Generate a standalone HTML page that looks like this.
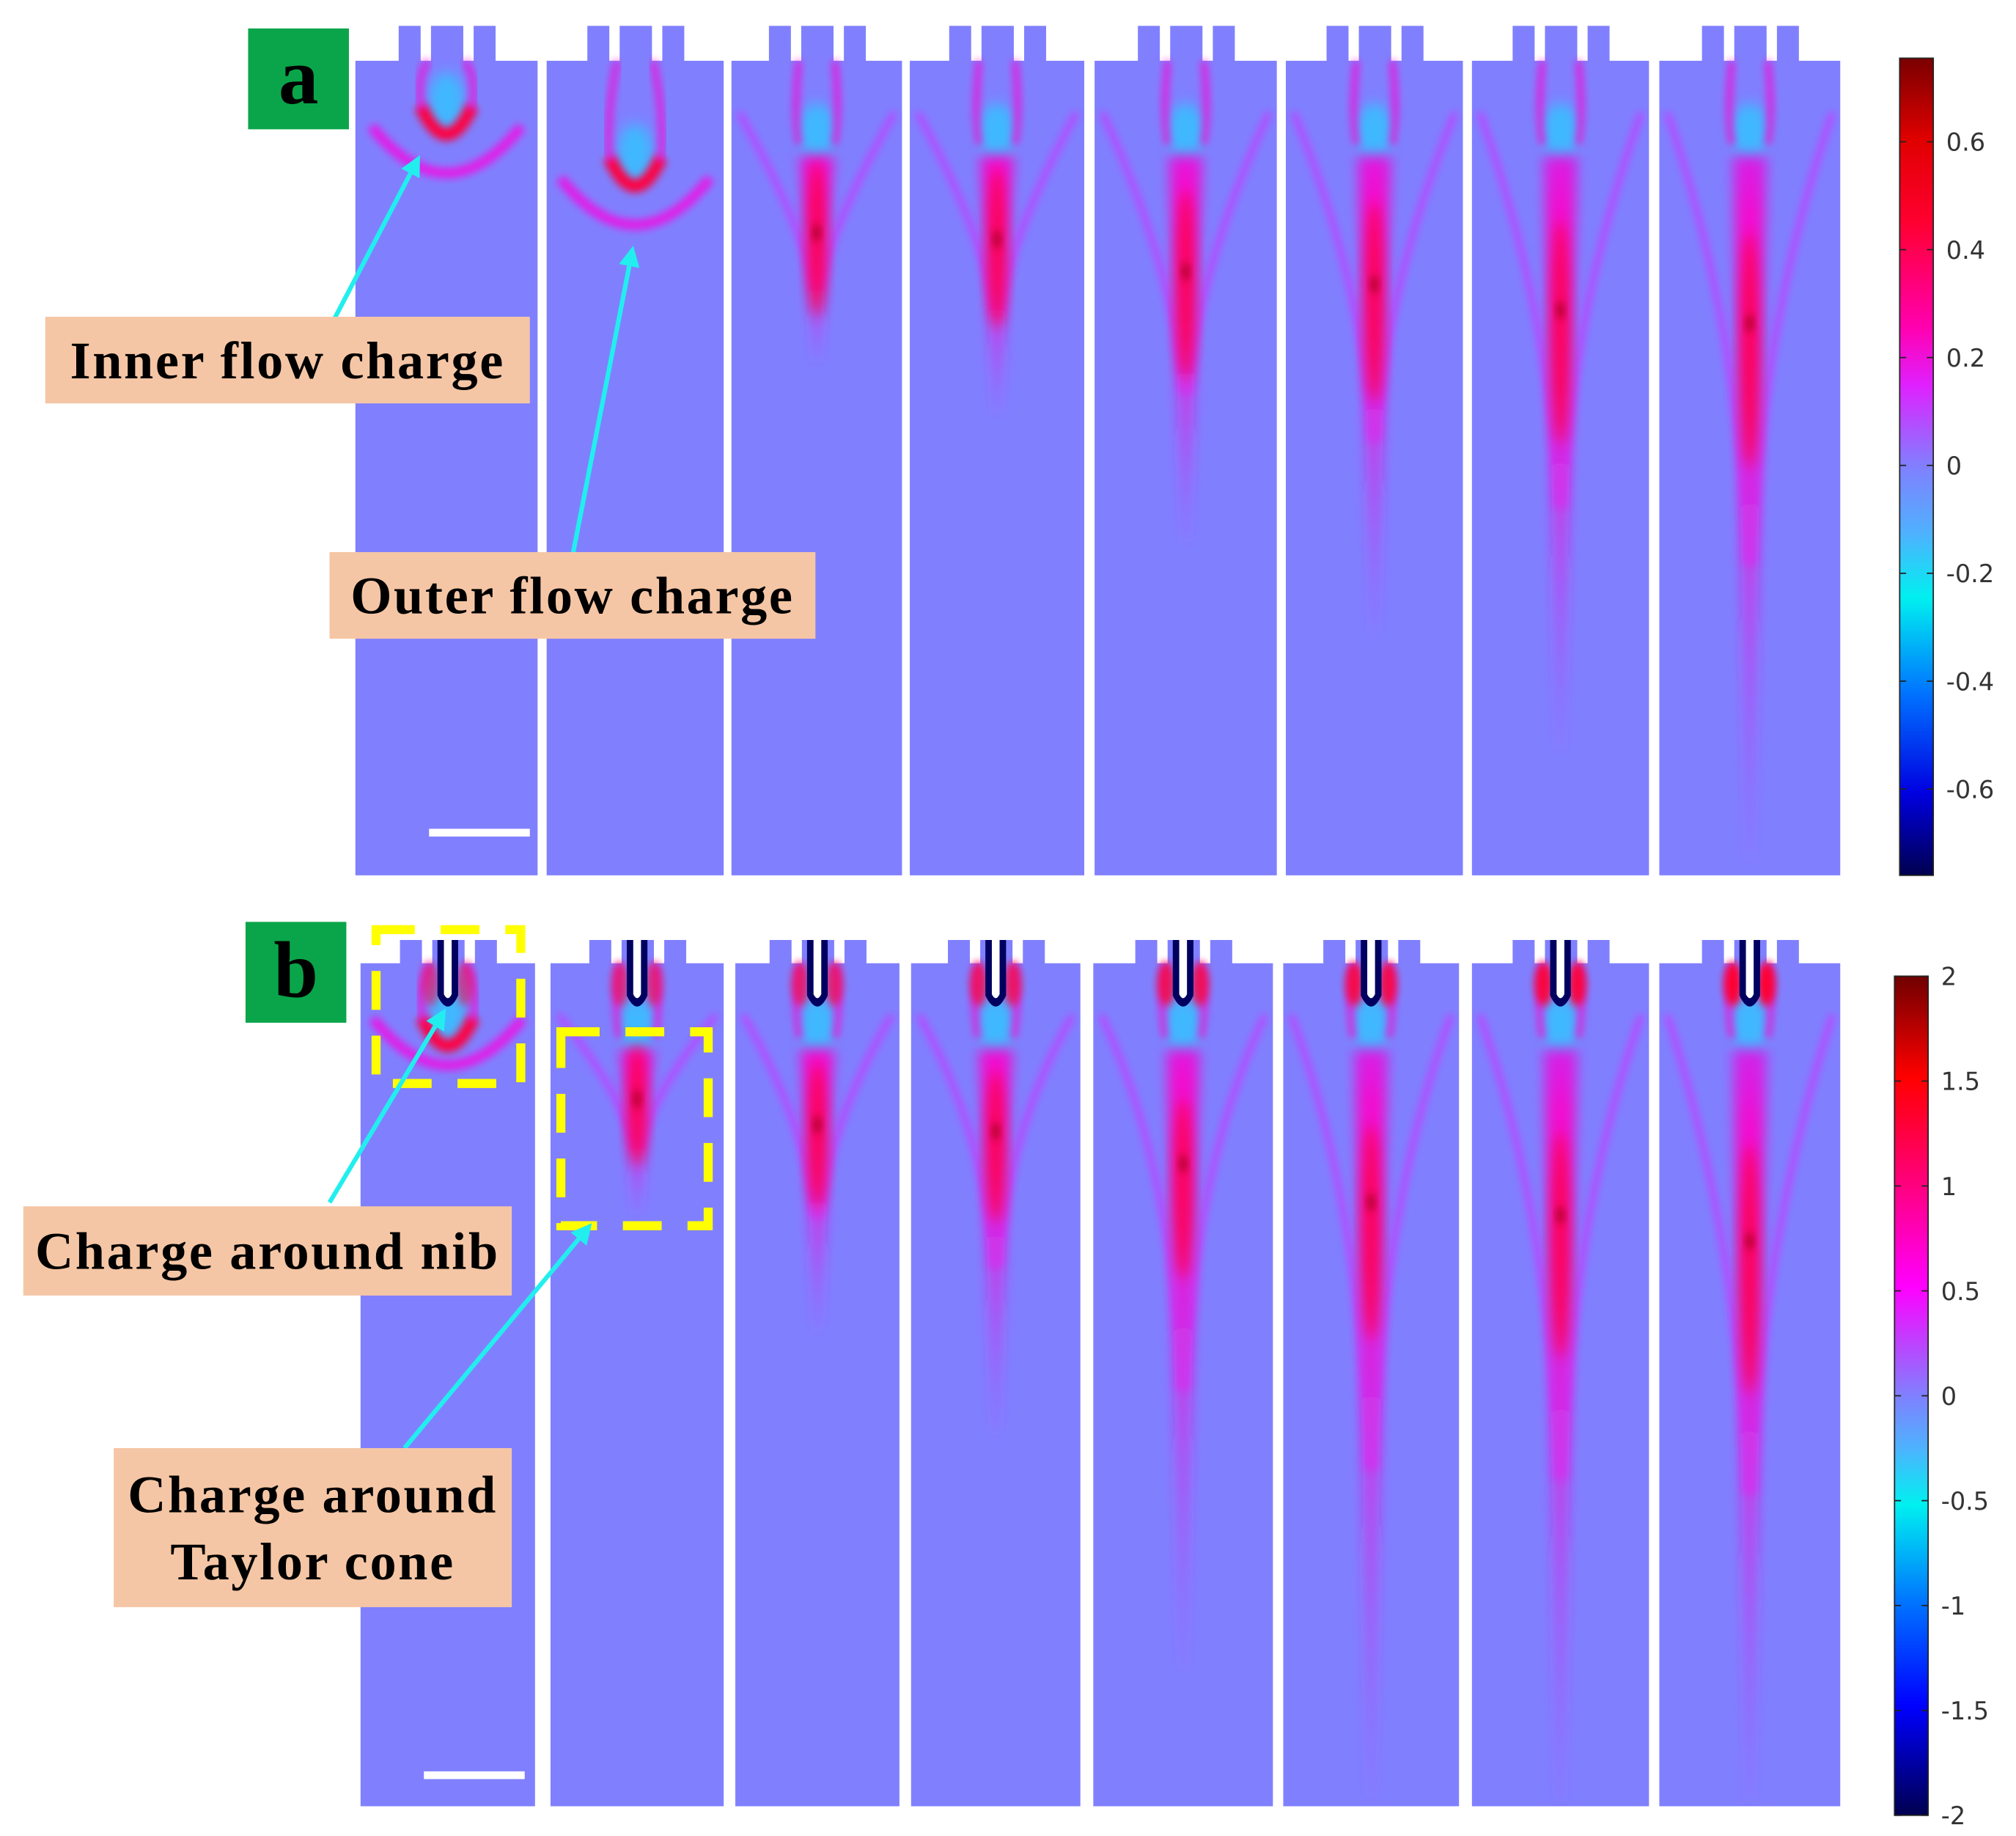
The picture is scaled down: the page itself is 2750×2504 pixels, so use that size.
<!DOCTYPE html>
<html><head><meta charset="utf-8"><style>
html,body{margin:0;padding:0;background:#fff;}
svg{display:block;}
</style></head><body>
<svg id="fig" xmlns="http://www.w3.org/2000/svg" width="2750" height="2504" viewBox="0 0 1560 1420" preserveAspectRatio="none">
<defs id="defs">
<filter id="blur2" x="-50%" y="-50%" width="200%" height="200%"><feGaussianBlur stdDeviation="3"/></filter>
<filter id="blur4" x="-50%" y="-50%" width="200%" height="200%"><feGaussianBlur stdDeviation="5"/></filter>
<filter id="blur6" x="-50%" y="-50%" width="200%" height="200%"><feGaussianBlur stdDeviation="7"/></filter>
<linearGradient id="cbA" x1="0" y1="0" x2="0" y2="1">
<stop offset="0" stop-color="#7a0000"/><stop offset="0.1" stop-color="#e00000"/><stop offset="0.2" stop-color="#ff0030"/><stop offset="0.33" stop-color="#ff00b0"/><stop offset="0.4" stop-color="#e020ff"/><stop offset="0.5" stop-color="#8080ff"/><stop offset="0.58" stop-color="#50b0ff"/><stop offset="0.66" stop-color="#00f0f0"/><stop offset="0.78" stop-color="#0070ff"/><stop offset="0.9" stop-color="#0000e0"/><stop offset="1" stop-color="#000050"/>
</linearGradient>
<linearGradient id="cbB" x1="0" y1="0" x2="0" y2="1">
<stop offset="0" stop-color="#700000"/><stop offset="0.12" stop-color="#ff0000"/><stop offset="0.25" stop-color="#ff0080"/><stop offset="0.37" stop-color="#ff00ff"/><stop offset="0.5" stop-color="#8080ff"/><stop offset="0.56" stop-color="#50b0ff"/><stop offset="0.63" stop-color="#00f0f0"/><stop offset="0.75" stop-color="#0070ff"/><stop offset="0.87" stop-color="#0000ff"/><stop offset="1" stop-color="#000050"/>
</linearGradient>
</defs>
<g id="panels"></g>
<g id="ann"></g>
</svg>
<script>
// ---- data arrays ----
const colsA = [[275,416],[423,560],[566,698],[704,839],[847,988],[995,1132],[1139,1276],[1284,1424]];
const colsB = [[279,414],[426,560],[569,696],[705,836],[846,985],[993,1129],[1139,1276],[1284,1424]];
// jet tip (strongest point) and jet end (fade) y, per column
const tipA = [110,150,180,185,210,220,240,250];
const endA = [150,190,280,320,420,490,580,665];
const tipB = [815,850,870,875,900,930,940,960];
const endB = [840,940,1030,1110,1290,1390,1395,1395];
const ticksA = ["0.6","0.4","0.2","0","-0.2","-0.4","-0.6"];
const tickValsA = [0.6,0.4,0.2,0,-0.2,-0.4,-0.6];
const ticksB = ["2","1.5","1","0.5","0","-0.5","-1","-1.5","-2"];
const tickValsB = [2,1.5,1,0.5,0,-0.5,-1,-1.5,-2];

const NS="http://www.w3.org/2000/svg";
function mk(tag, attrs, parent){const e=document.createElementNS(NS,tag);for(const k in attrs)e.setAttribute(k,attrs[k]);parent.appendChild(e);return e;}
const P=document.getElementById('panels');
const A=document.getElementById('ann');
const D=document.getElementById('defs');

function drawPanel(cols,top,bottom,tabTop,tips,ends,isB){
  cols.forEach((c,i)=>{
    const g=mk('g',{},P);
    
    
    const cx=(c[0]+c[1])/2;
    mk('rect',{x:c[0],y:top,width:c[1]-c[0],height:bottom-top,fill:'#8080ff'},g);
    [[-37,-20],[-12,13],[21,38]].forEach(t=>mk('rect',{x:cx+t[0],y:tabTop,width:t[1]-t[0],height:top-tabTop+1,fill:'#8080ff'},g));
    const clip='clip'+(isB?'b':'a')+i;
    const cp=mk('clipPath',{id:clip},g);
    mk('rect',{x:c[0],y:tabTop,width:c[1]-c[0],height:bottom-tabTop},cp);
    const f=mk('g',{'clip-path':'url(#'+clip+')'},g);
    const tip=tips[i], end=ends[i];
    const bowl = isB ? i<1 : i<2;
    if(bowl){
      const r2=58;
      mk('ellipse',{cx:cx,cy:tip-32,rx:14,ry:22,fill:'#40b8ff',filter:'url(#blur4)'},f);
      mk('path',{d:`M${cx-r2} ${end-r2*0.9} Q${cx} ${end+20} ${cx+r2} ${end-r2*0.9}`,stroke:'#ff00e0',"stroke-width":8,fill:'none',opacity:0.8,filter:'url(#blur2)'},f);
      mk('path',{d:`M${cx-20} ${tip-28} Q${cx} ${tip+16} ${cx+20} ${tip-28}`,stroke:'#ff0040',"stroke-width":10,fill:'none',filter:'url(#blur2)'},f);
      mk('path',{d:`M${cx-19} ${tip-25} Q${cx-24} ${tip-50} ${cx-14} ${top}`,stroke:'#ff00d0',"stroke-width":6,fill:'none',opacity:0.7,filter:'url(#blur2)'},f);
      mk('path',{d:`M${cx+19} ${tip-25} Q${cx+24} ${tip-50} ${cx+14} ${top}`,stroke:'#ff00d0',"stroke-width":6,fill:'none',opacity:0.7,filter:'url(#blur2)'},f);
    } else {
      const gid='jg'+(isB?'b':'a')+i;
      const lg=mk('linearGradient',{id:gid,x1:0,y1:0,x2:0,y2:1,gradientUnits:'userSpaceOnUse'},D);
      lg.setAttribute('y1',top); lg.setAttribute('y2',end); lg.setAttribute('x1',0); lg.setAttribute('x2',0);
      const fr=(tip-top)/(end-top);
      mk('stop',{offset:0,'stop-color':'#e000ff','stop-opacity':0.5},lg);
      mk('stop',{offset:fr*0.6,'stop-color':'#ff00c8','stop-opacity':0.9},lg);
      mk('stop',{offset:Math.min(0.95,fr+0.15),'stop-color':'#ff00d0','stop-opacity':0.8},lg);
      mk('stop',{offset:1,'stop-color':'#c040ff','stop-opacity':0.15},lg);
      const cy0 = isB?top+48:top+55;
      mk('ellipse',{cx:cx,cy:cy0,rx:15,ry:22,fill:'#40b8ff',filter:'url(#blur4)'},f);
      const spread=(c[1]-c[0])/2-6;
      const meet=tip+(end-tip)*0.45;
      mk('path',{d:`M${cx-spread} ${top+40} Q${cx-8} ${tip} ${cx-3} ${meet}`,stroke:'#e020ff',"stroke-width":5,fill:'none',opacity:0.6,filter:'url(#blur2)'},f);
      mk('path',{d:`M${cx+spread} ${top+40} Q${cx+8} ${tip} ${cx+3} ${meet}`,stroke:'#e020ff',"stroke-width":5,fill:'none',opacity:0.6,filter:'url(#blur2)'},f);
      mk('path',{d:`M${cx-13} ${cy0+18} Q${cx-9} ${tip} ${cx-3} ${end} L${cx+3} ${end} Q${cx+9} ${tip} ${cx+13} ${cy0+18} Z`,fill:'url(#'+gid+')',filter:'url(#blur4)'},f);
      mk('ellipse',{cx:cx,cy:tip+(end-tip)*0.05,rx:7,ry:Math.max(25,(tip-top)*0.45),fill:'#ff0040',opacity:0.85,filter:'url(#blur4)'},f);
      mk('ellipse',{cx:cx,cy:tip,rx:3,ry:7,fill:'#a00020',opacity:0.8,filter:'url(#blur2)'},f);
      mk('path',{d:`M${cx-14} ${top} Q${cx-18} ${cy0-10} ${cx-14} ${cy0+10} M${cx+14} ${top} Q${cx+18} ${cy0-10} ${cx+14} ${cy0+10}`,stroke:'#ff00d0',"stroke-width":5,fill:'none',opacity:0.8,filter:'url(#blur2)'},f);
    }
    if(isB){
      const a=0.5+0.07*i;
      mk('ellipse',{cx:cx-13,cy:top+16,rx:7,ry:17,fill:'#ff0030',opacity:a,filter:'url(#blur2)'},f);
      mk('ellipse',{cx:cx+13,cy:top+16,rx:7,ry:17,fill:'#ff0030',opacity:a,filter:'url(#blur2)'},f);
      mk('path',{d:`M${cx-8} ${tabTop} L${cx-8} ${top+25} Q${cx} ${top+42} ${cx+8} ${top+25} L${cx+8} ${tabTop} Z`,fill:'#000060'},f);
      mk('path',{d:`M${cx-3} ${tabTop} L${cx-3} ${top+24} Q${cx} ${top+30} ${cx+3} ${top+24} L${cx+3} ${tabTop} Z`,fill:'#ffffff'},f);
    }
  });
}
drawPanel(colsA,47,677,20,tipA,endA,false);
drawPanel(colsB,745,1397,727,tipB,endB,true);

function colorbar(x,y0,y1,grad,ticks,vals,vmax,vmin,name){
  const g=mk('g',{},A);
  
  
  mk('rect',{x:x,y:y0,width:26,height:y1-y0,fill:'url(#'+grad+')',stroke:'#222','stroke-width':1},g);
  const ys=v=>y0+(vmax-v)/(vmax-vmin)*(y1-y0);
  vals.forEach((v,i)=>{
    const y=ys(v);
    mk('line',{x1:x,x2:x+5,y1:y,y2:y,stroke:'#222'},g);
    mk('line',{x1:x+21,x2:x+26,y1:y,y2:y,stroke:'#222'},g);
    const t=mk('text',{x:x+36,y:y+7,'font-family':'"DejaVu Sans","Liberation Sans",sans-serif','font-size':19,fill:'#333'},g);
    t.textContent=ticks[i];
    
    
  });
}
colorbar(1470,45,677,'cbA',ticksA,tickValsA,0.755,-0.76,'colorbar-a');
colorbar(1466,755,1404,'cbB',ticksB,tickValsB,2,-2,'colorbar-b');

function label(x,y,w,h,lines,name){
  const g=mk('g',{},A);
  
  
  mk('rect',{x:x,y:y,width:w,height:h,fill:'#f5c6a5'},g);
  lines.forEach((l,i)=>{
    const t=mk('text',{x:x+w/2,y:y+h/2+14+(i-(lines.length-1)/2)*52,'text-anchor':'middle','font-family':'"Liberation Serif",serif','font-weight':'bold','font-size':41,'letter-spacing':1.5,fill:'#000'},g);
    t.textContent=l;
  });
}
function arrow(x1,y1,x2,y2,name){
  const g=mk('g',{},A);
  
  
  const a=Math.atan2(y2-y1,x2-x1), L=16, W=8;
  const bx=x2-L*Math.cos(a), by=y2-L*Math.sin(a);
  mk('line',{x1:x1,y1:y1,x2:bx,y2:by,stroke:'#22eeee','stroke-width':3.5},g);
  mk('polygon',{points:`${x2},${y2} ${bx-W*Math.sin(a)},${by+W*Math.cos(a)} ${bx+W*Math.sin(a)},${by-W*Math.cos(a)}`,fill:'#22eeee'},g);
}
function badge(x,y,s,name){
  const g=mk('g',{},A);
  
  
  mk('rect',{x:x,y:y,width:78,height:78,fill:'#0aa54a'},g);
  const t=mk('text',{x:x+39,y:y+58,'text-anchor':'middle','font-family':'"Liberation Serif",serif','font-weight':'bold','font-size':62,fill:'#000'},g);
  t.textContent=s;
}
[[291,719,112,119],[434,798,114,150]].forEach((b,i)=>{
  const r=mk('rect',{x:b[0],y:b[1],width:b[2],height:b[3],fill:'none',stroke:'#ffff00','stroke-width':7,'stroke-dasharray':'30 20'},A);
  
  
});
const sb1=mk('rect',{x:332,y:641,width:78,height:6,fill:'#fff'},A);


const sb2=mk('rect',{x:328,y:1370,width:78,height:6,fill:'#fff'},A);



badge(192,22,'a','panel-a-label');
badge(190,713,'b','panel-b-label');
arrow(258,248,325,120,'arrow-inner-flow');
arrow(443,430,490,190,'arrow-outer-flow');
arrow(255,930,345,780,'arrow-nib');
arrow(313,1120,458,946,'arrow-taylor-cone');
label(35,245,375,67,['Inner  flow charge'],'label-inner-flow-charge');
label(255,427,376,67,['Outer flow charge'],'label-outer-flow-charge');
label(18,933,378,69,['Charge around nib'],'label-charge-around-nib');
label(88,1120,308,123,['Charge around','Taylor cone'],'label-charge-around-taylor-cone');
</script>
</body></html>
